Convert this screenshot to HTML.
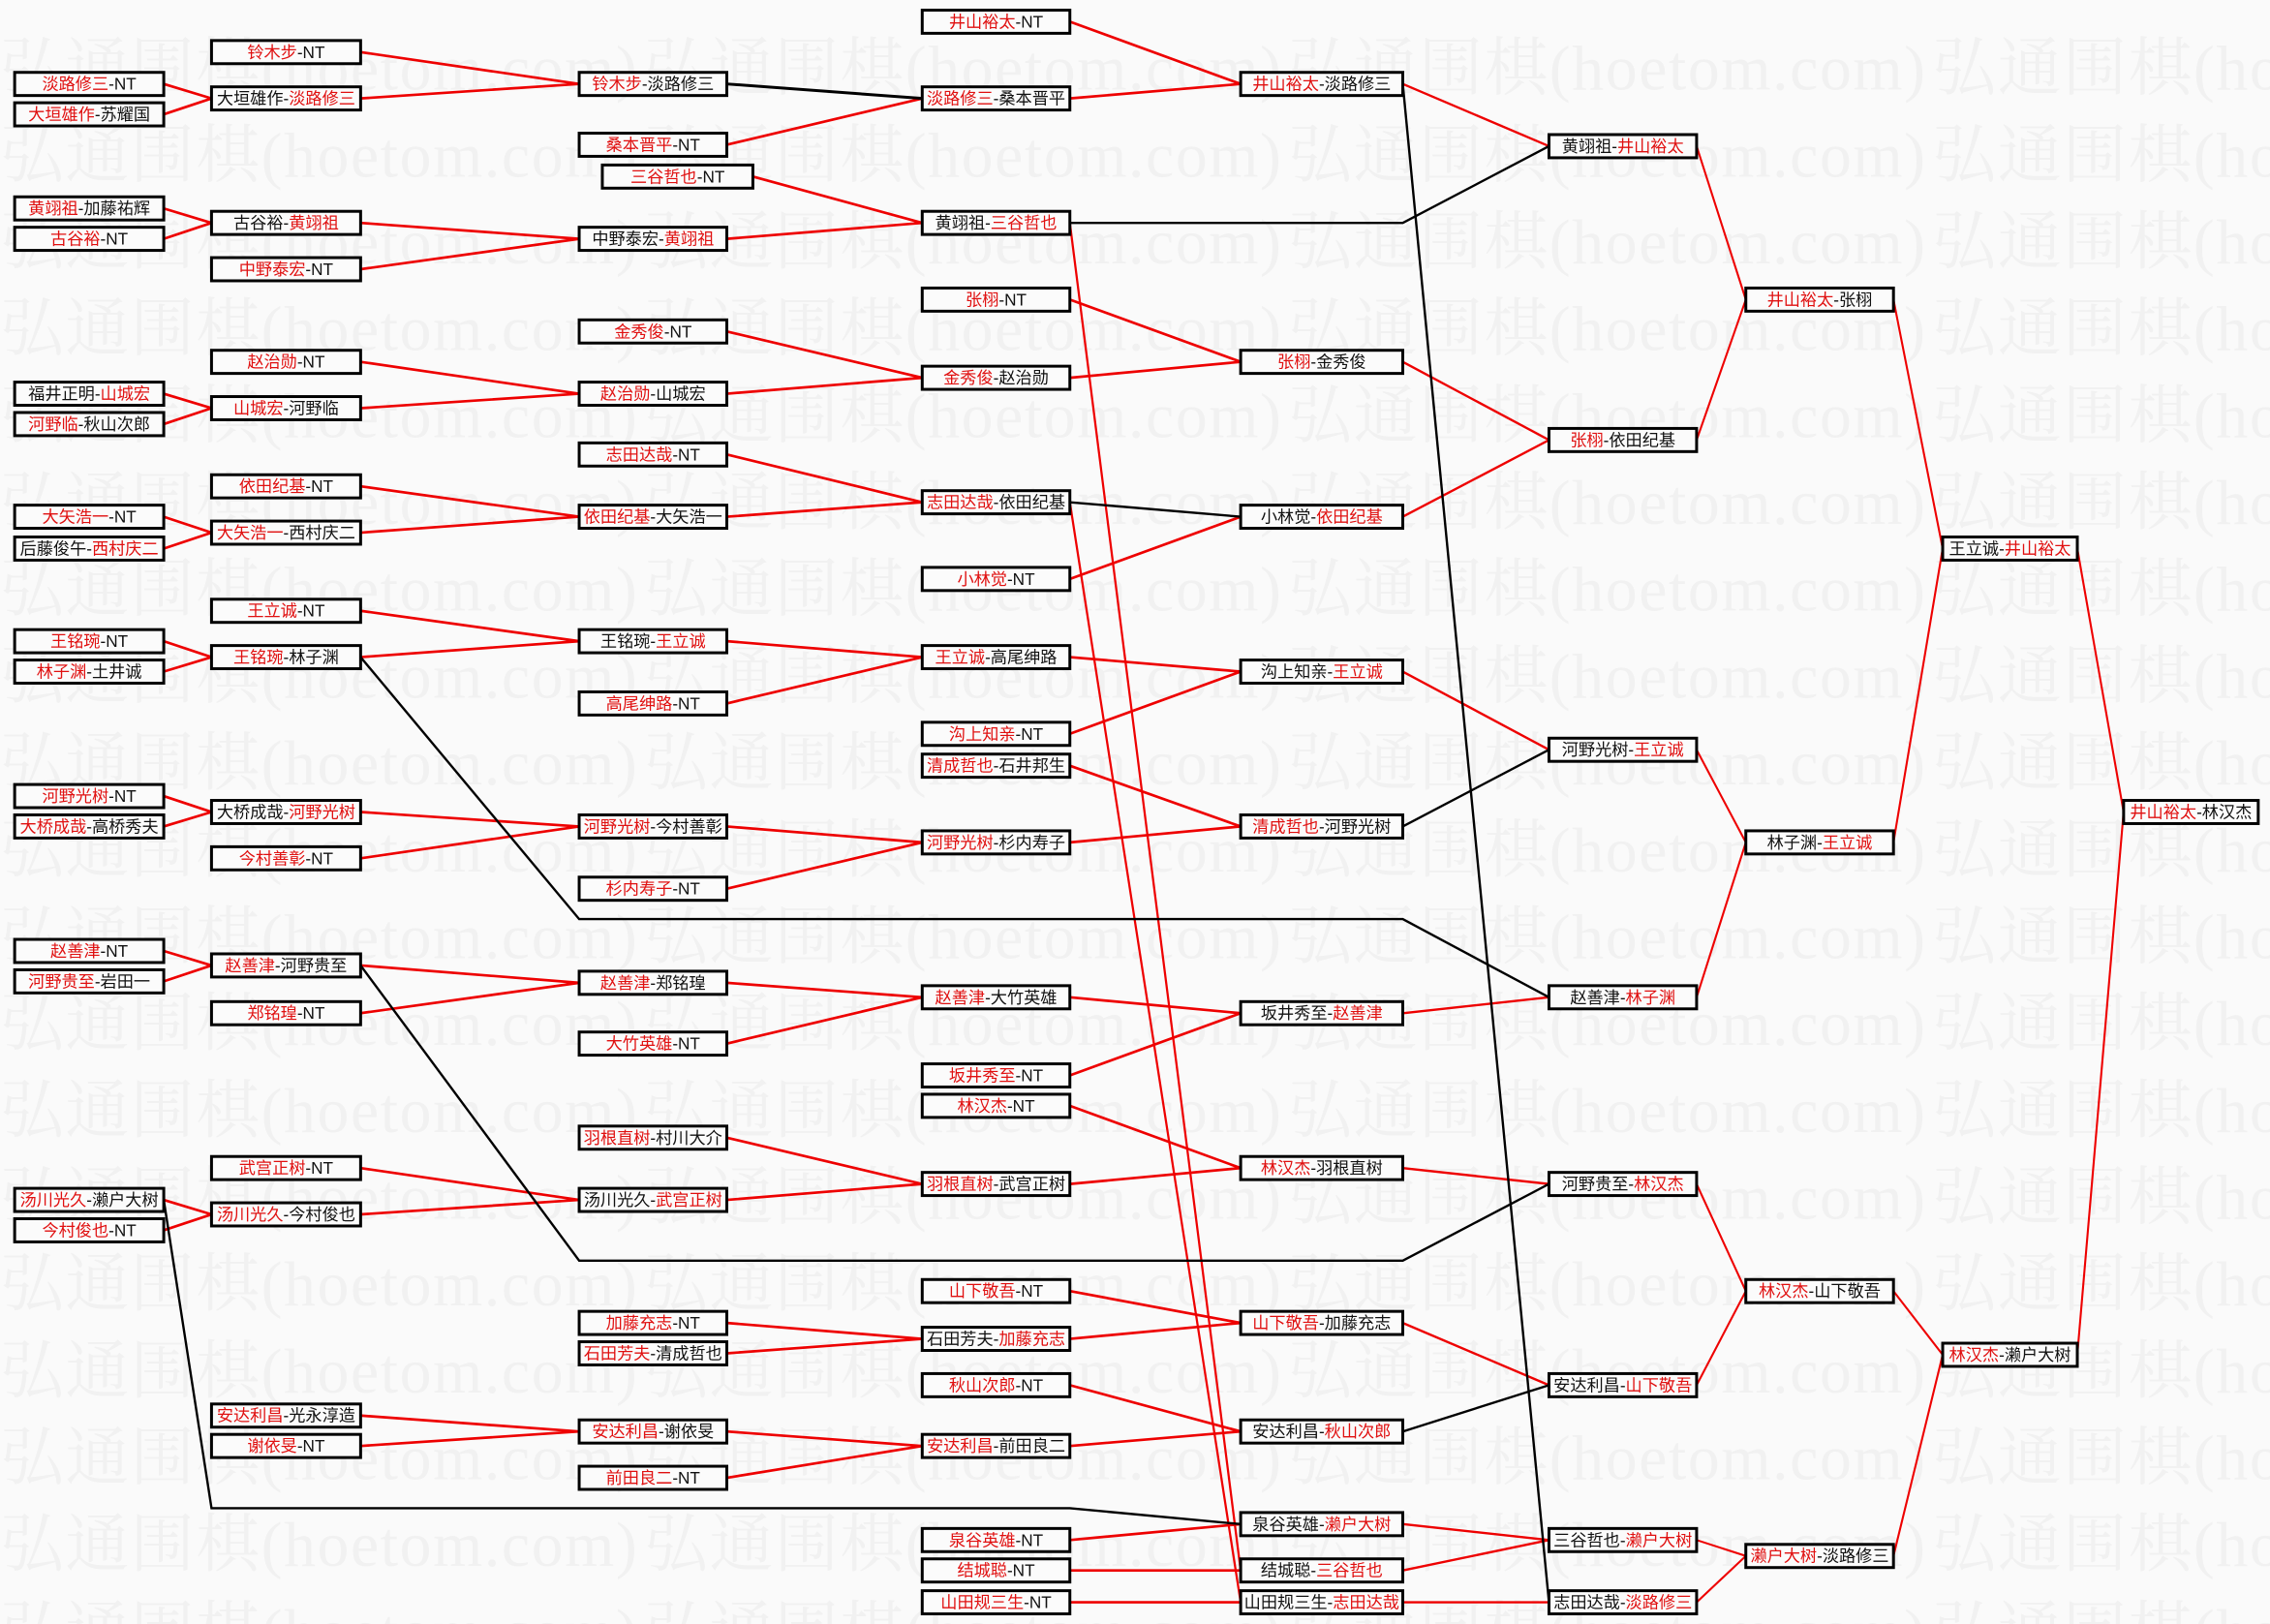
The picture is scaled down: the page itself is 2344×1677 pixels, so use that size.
<!DOCTYPE html>
<html><head><meta charset="utf-8"><style>
html,body{margin:0;padding:0;background:#fafafa;}
svg{display:block;}
.wm{font-family:"Liberation Serif","Noto Serif CJK SC",serif;font-size:44px;fill:#f1f1f1;}
.bx{fill:#fbfbfb;stroke:#000;stroke-width:2;}
.t{font-family:"Liberation Sans","Noto Sans CJK SC",sans-serif;font-size:11.5px;fill:#111;text-anchor:middle;}
.r{fill:#e01010;}
.lr{stroke:#e00;fill:none;stroke-width:1.8;}
.lk{stroke:#000;fill:none;stroke-width:1.6;}
</style></head><body>
<svg width="2344" height="1677" viewBox="0 0 1568 1122" xmlns="http://www.w3.org/2000/svg">
<rect width="1568" height="1122" fill="#fafafa"/>
<g class="wm" id="wm">
<text x="0" y="62" textLength="440">弘通围棋(hoetom.com)</text><text x="445" y="62" textLength="440">弘通围棋(hoetom.com)</text><text x="890" y="62" textLength="440">弘通围棋(hoetom.com)</text><text x="1335" y="62" textLength="440">弘通围棋(hoetom.com)</text>
<text x="0" y="122" textLength="440">弘通围棋(hoetom.com)</text><text x="445" y="122" textLength="440">弘通围棋(hoetom.com)</text><text x="890" y="122" textLength="440">弘通围棋(hoetom.com)</text><text x="1335" y="122" textLength="440">弘通围棋(hoetom.com)</text>
<text x="0" y="182" textLength="440">弘通围棋(hoetom.com)</text><text x="445" y="182" textLength="440">弘通围棋(hoetom.com)</text><text x="890" y="182" textLength="440">弘通围棋(hoetom.com)</text><text x="1335" y="182" textLength="440">弘通围棋(hoetom.com)</text>
<text x="0" y="242" textLength="440">弘通围棋(hoetom.com)</text><text x="445" y="242" textLength="440">弘通围棋(hoetom.com)</text><text x="890" y="242" textLength="440">弘通围棋(hoetom.com)</text><text x="1335" y="242" textLength="440">弘通围棋(hoetom.com)</text>
<text x="0" y="302" textLength="440">弘通围棋(hoetom.com)</text><text x="445" y="302" textLength="440">弘通围棋(hoetom.com)</text><text x="890" y="302" textLength="440">弘通围棋(hoetom.com)</text><text x="1335" y="302" textLength="440">弘通围棋(hoetom.com)</text>
<text x="0" y="362" textLength="440">弘通围棋(hoetom.com)</text><text x="445" y="362" textLength="440">弘通围棋(hoetom.com)</text><text x="890" y="362" textLength="440">弘通围棋(hoetom.com)</text><text x="1335" y="362" textLength="440">弘通围棋(hoetom.com)</text>
<text x="0" y="422" textLength="440">弘通围棋(hoetom.com)</text><text x="445" y="422" textLength="440">弘通围棋(hoetom.com)</text><text x="890" y="422" textLength="440">弘通围棋(hoetom.com)</text><text x="1335" y="422" textLength="440">弘通围棋(hoetom.com)</text>
<text x="0" y="482" textLength="440">弘通围棋(hoetom.com)</text><text x="445" y="482" textLength="440">弘通围棋(hoetom.com)</text><text x="890" y="482" textLength="440">弘通围棋(hoetom.com)</text><text x="1335" y="482" textLength="440">弘通围棋(hoetom.com)</text>
<text x="0" y="542" textLength="440">弘通围棋(hoetom.com)</text><text x="445" y="542" textLength="440">弘通围棋(hoetom.com)</text><text x="890" y="542" textLength="440">弘通围棋(hoetom.com)</text><text x="1335" y="542" textLength="440">弘通围棋(hoetom.com)</text>
<text x="0" y="602" textLength="440">弘通围棋(hoetom.com)</text><text x="445" y="602" textLength="440">弘通围棋(hoetom.com)</text><text x="890" y="602" textLength="440">弘通围棋(hoetom.com)</text><text x="1335" y="602" textLength="440">弘通围棋(hoetom.com)</text>
<text x="0" y="662" textLength="440">弘通围棋(hoetom.com)</text><text x="445" y="662" textLength="440">弘通围棋(hoetom.com)</text><text x="890" y="662" textLength="440">弘通围棋(hoetom.com)</text><text x="1335" y="662" textLength="440">弘通围棋(hoetom.com)</text>
<text x="0" y="722" textLength="440">弘通围棋(hoetom.com)</text><text x="445" y="722" textLength="440">弘通围棋(hoetom.com)</text><text x="890" y="722" textLength="440">弘通围棋(hoetom.com)</text><text x="1335" y="722" textLength="440">弘通围棋(hoetom.com)</text>
<text x="0" y="782" textLength="440">弘通围棋(hoetom.com)</text><text x="445" y="782" textLength="440">弘通围棋(hoetom.com)</text><text x="890" y="782" textLength="440">弘通围棋(hoetom.com)</text><text x="1335" y="782" textLength="440">弘通围棋(hoetom.com)</text>
<text x="0" y="842" textLength="440">弘通围棋(hoetom.com)</text><text x="445" y="842" textLength="440">弘通围棋(hoetom.com)</text><text x="890" y="842" textLength="440">弘通围棋(hoetom.com)</text><text x="1335" y="842" textLength="440">弘通围棋(hoetom.com)</text>
<text x="0" y="902" textLength="440">弘通围棋(hoetom.com)</text><text x="445" y="902" textLength="440">弘通围棋(hoetom.com)</text><text x="890" y="902" textLength="440">弘通围棋(hoetom.com)</text><text x="1335" y="902" textLength="440">弘通围棋(hoetom.com)</text>
<text x="0" y="962" textLength="440">弘通围棋(hoetom.com)</text><text x="445" y="962" textLength="440">弘通围棋(hoetom.com)</text><text x="890" y="962" textLength="440">弘通围棋(hoetom.com)</text><text x="1335" y="962" textLength="440">弘通围棋(hoetom.com)</text>
<text x="0" y="1022" textLength="440">弘通围棋(hoetom.com)</text><text x="445" y="1022" textLength="440">弘通围棋(hoetom.com)</text><text x="890" y="1022" textLength="440">弘通围棋(hoetom.com)</text><text x="1335" y="1022" textLength="440">弘通围棋(hoetom.com)</text>
<text x="0" y="1082" textLength="440">弘通围棋(hoetom.com)</text><text x="445" y="1082" textLength="440">弘通围棋(hoetom.com)</text><text x="890" y="1082" textLength="440">弘通围棋(hoetom.com)</text><text x="1335" y="1082" textLength="440">弘通围棋(hoetom.com)</text>
<text x="0" y="1142" textLength="440">弘通围棋(hoetom.com)</text><text x="445" y="1142" textLength="440">弘通围棋(hoetom.com)</text><text x="890" y="1142" textLength="440">弘通围棋(hoetom.com)</text><text x="1335" y="1142" textLength="440">弘通围棋(hoetom.com)</text>
</g>

<g class="lr">
<path d="M113,58L146,68L113,79 M113,144L146,154L113,165 M113,272L146,282L113,293 M113,357L146,368L113,379 M113,443L146,454L113,464 M113,550L146,561L113,571 M113,657L146,667L113,678 M113,829L146,839L113,850"/>
<path d="M249,36L400,58L249,68 M249,154L400,165L249,186 M249,250L400,272L249,282 M249,336L400,357L249,368 M249,422L400,443L249,454 M249,561L400,571L249,593 M249,667L400,679L249,700 M249,807L400,829L249,839 M249,978L400,989L249,999"/>
<path d="M502,100L637,68 M520,122L637,154L502,165 M502,229L637,261L502,272 M502,314L637,347L502,357 M502,443L637,454L502,486 M502,571L637,582L502,614 M502,679L637,689L502,721 M502,786L637,818L502,829 M502,914L637,925L502,935 M502,989L637,999L502,1021"/>
<path d="M739,15L857,58L739,68 M739,207L857,250L739,261 M739,400L857,357 M739,454L857,464L739,507 M739,529L857,571L739,582 M739,689L857,700L739,743 M739,764L857,807L739,818 M739,892L857,914L739,925 M739,957L857,989L739,999 M739,1064L857,1053 M739,1085L857,1085 M739,1107L857,1107"/>
<path d="M739,154L857,1085 M739,347L857,1107" style="stroke-width:1.5"/>
<path d="M969,58L1070,101 M969,250L1070,304L969,357 M969,464L1070,518 M969,700L1070,689 M969,807L1070,818 M969,914L1070,957 M969,1053L1070,1064L969,1085 M969,1107L1070,1107" style="stroke-width:1.6"/>
<path d="M1172,101L1206,207L1172,304 M1172,518L1206,582L1172,689 M1172,818L1206,892L1172,957 M1172,1064L1206,1075L1172,1107 M1308,207L1342,379L1308,582 M1308,892L1342,936L1308,1075 M1435,379L1467,561L1435,936" style="stroke-width:1.4"/>
</g>
<g class="lk">
<path d="M113,829L146,1042L739,1042L857,1053"/>
<path d="M249,454L400,635L969,635L1070,689"/>
<path d="M249,667L400,871L969,871L1070,818"/>
<path d="M502,58L637,68" style="stroke-width:2"/>
<path d="M739,347L857,357"/>
<path d="M739,154L969,154L1070,101"/>
<path d="M969,571L1070,518 M969,989L1070,957"/>
<path d="M969,58L1070,1107"/>
</g>

<g>
<rect class="bx" x="10" y="50" width="103" height="16"/><text class="t" x="61.5" y="62"><tspan class="r">淡路修三</tspan>-NT</text>
<rect class="bx" x="10" y="71" width="103" height="16"/><text class="t" x="61.5" y="83"><tspan class="r">大垣雄作</tspan>-苏耀国</text>
<rect class="bx" x="10" y="136" width="103" height="16"/><text class="t" x="61.5" y="148"><tspan class="r">黄翊祖</tspan>-加藤祐辉</text>
<rect class="bx" x="10" y="157" width="103" height="16"/><text class="t" x="61.5" y="169"><tspan class="r">古谷裕</tspan>-NT</text>
<rect class="bx" x="10" y="264" width="103" height="16"/><text class="t" x="61.5" y="276">福井正明-<tspan class="r">山城宏</tspan></text>
<rect class="bx" x="10" y="285" width="103" height="16"/><text class="t" x="61.5" y="297"><tspan class="r">河野临</tspan>-秋山次郎</text>
<rect class="bx" x="10" y="349" width="103" height="16"/><text class="t" x="61.5" y="361"><tspan class="r">大矢浩一</tspan>-NT</text>
<rect class="bx" x="10" y="371" width="103" height="16"/><text class="t" x="61.5" y="383">后藤俊午-<tspan class="r">西村庆二</tspan></text>
<rect class="bx" x="10" y="435" width="103" height="16"/><text class="t" x="61.5" y="447"><tspan class="r">王铭琬</tspan>-NT</text>
<rect class="bx" x="10" y="456" width="103" height="16"/><text class="t" x="61.5" y="468"><tspan class="r">林子渊</tspan>-土井诚</text>
<rect class="bx" x="10" y="542" width="103" height="16"/><text class="t" x="61.5" y="554"><tspan class="r">河野光树</tspan>-NT</text>
<rect class="bx" x="10" y="563" width="103" height="16"/><text class="t" x="61.5" y="575"><tspan class="r">大桥成哉</tspan>-高桥秀夫</text>
<rect class="bx" x="10" y="649" width="103" height="16"/><text class="t" x="61.5" y="661"><tspan class="r">赵善津</tspan>-NT</text>
<rect class="bx" x="10" y="670" width="103" height="16"/><text class="t" x="61.5" y="682"><tspan class="r">河野贵至</tspan>-岩田一</text>
<rect class="bx" x="10" y="821" width="103" height="16"/><text class="t" x="61.5" y="833"><tspan class="r">汤川光久</tspan>-濑户大树</text>
<rect class="bx" x="10" y="842" width="103" height="16"/><text class="t" x="61.5" y="854"><tspan class="r">今村俊也</tspan>-NT</text>
</g>
<g>
<rect class="bx" x="146" y="28" width="103" height="16"/><text class="t" x="197.5" y="40"><tspan class="r">铃木步</tspan>-NT</text>
<rect class="bx" x="146" y="60" width="103" height="16"/><text class="t" x="197.5" y="72">大垣雄作-<tspan class="r">淡路修三</tspan></text>
<rect class="bx" x="146" y="146" width="103" height="16"/><text class="t" x="197.5" y="158">古谷裕-<tspan class="r">黄翊祖</tspan></text>
<rect class="bx" x="146" y="178" width="103" height="16"/><text class="t" x="197.5" y="190"><tspan class="r">中野泰宏</tspan>-NT</text>
<rect class="bx" x="146" y="242" width="103" height="16"/><text class="t" x="197.5" y="254"><tspan class="r">赵治勋</tspan>-NT</text>
<rect class="bx" x="146" y="274" width="103" height="16"/><text class="t" x="197.5" y="286"><tspan class="r">山城宏</tspan>-河野临</text>
<rect class="bx" x="146" y="328" width="103" height="16"/><text class="t" x="197.5" y="340"><tspan class="r">依田纪基</tspan>-NT</text>
<rect class="bx" x="146" y="360" width="103" height="16"/><text class="t" x="197.5" y="372"><tspan class="r">大矢浩一</tspan>-西村庆二</text>
<rect class="bx" x="146" y="414" width="103" height="16"/><text class="t" x="197.5" y="426"><tspan class="r">王立诚</tspan>-NT</text>
<rect class="bx" x="146" y="446" width="103" height="16"/><text class="t" x="197.5" y="458"><tspan class="r">王铭琬</tspan>-林子渊</text>
<rect class="bx" x="146" y="553" width="103" height="16"/><text class="t" x="197.5" y="565">大桥成哉-<tspan class="r">河野光树</tspan></text>
<rect class="bx" x="146" y="585" width="103" height="16"/><text class="t" x="197.5" y="597"><tspan class="r">今村善彰</tspan>-NT</text>
<rect class="bx" x="146" y="659" width="103" height="16"/><text class="t" x="197.5" y="671"><tspan class="r">赵善津</tspan>-河野贵至</text>
<rect class="bx" x="146" y="692" width="103" height="16"/><text class="t" x="197.5" y="704"><tspan class="r">郑铭瑝</tspan>-NT</text>
<rect class="bx" x="146" y="799" width="103" height="16"/><text class="t" x="197.5" y="811"><tspan class="r">武宫正树</tspan>-NT</text>
<rect class="bx" x="146" y="831" width="103" height="16"/><text class="t" x="197.5" y="843"><tspan class="r">汤川光久</tspan>-今村俊也</text>
<rect class="bx" x="146" y="970" width="103" height="16"/><text class="t" x="197.5" y="982"><tspan class="r">安达利昌</tspan>-光永淳造</text>
<rect class="bx" x="146" y="991" width="103" height="16"/><text class="t" x="197.5" y="1003"><tspan class="r">谢依旻</tspan>-NT</text>
</g>
<g>
<rect class="bx" x="400" y="50" width="102" height="16"/><text class="t" x="451" y="62"><tspan class="r">铃木步</tspan>-淡路修三</text>
<rect class="bx" x="400" y="92" width="102" height="16"/><text class="t" x="451" y="104"><tspan class="r">桑本晋平</tspan>-NT</text>
<rect class="bx" x="416" y="114" width="104" height="16"/><text class="t" x="468" y="126"><tspan class="r">三谷哲也</tspan>-NT</text>
<rect class="bx" x="400" y="157" width="102" height="16"/><text class="t" x="451" y="169">中野泰宏-<tspan class="r">黄翊祖</tspan></text>
<rect class="bx" x="400" y="221" width="102" height="16"/><text class="t" x="451" y="233"><tspan class="r">金秀俊</tspan>-NT</text>
<rect class="bx" x="400" y="264" width="102" height="16"/><text class="t" x="451" y="276"><tspan class="r">赵治勋</tspan>-山城宏</text>
<rect class="bx" x="400" y="306" width="102" height="16"/><text class="t" x="451" y="318"><tspan class="r">志田达哉</tspan>-NT</text>
<rect class="bx" x="400" y="349" width="102" height="16"/><text class="t" x="451" y="361"><tspan class="r">依田纪基</tspan>-大矢浩一</text>
<rect class="bx" x="400" y="435" width="102" height="16"/><text class="t" x="451" y="447">王铭琬-<tspan class="r">王立诚</tspan></text>
<rect class="bx" x="400" y="478" width="102" height="16"/><text class="t" x="451" y="490"><tspan class="r">高尾绅路</tspan>-NT</text>
<rect class="bx" x="400" y="563" width="102" height="16"/><text class="t" x="451" y="575"><tspan class="r">河野光树</tspan>-今村善彰</text>
<rect class="bx" x="400" y="606" width="102" height="16"/><text class="t" x="451" y="618"><tspan class="r">杉内寿子</tspan>-NT</text>
<rect class="bx" x="400" y="671" width="102" height="16"/><text class="t" x="451" y="683"><tspan class="r">赵善津</tspan>-郑铭瑝</text>
<rect class="bx" x="400" y="713" width="102" height="16"/><text class="t" x="451" y="725"><tspan class="r">大竹英雄</tspan>-NT</text>
<rect class="bx" x="400" y="778" width="102" height="16"/><text class="t" x="451" y="790"><tspan class="r">羽根直树</tspan>-村川大介</text>
<rect class="bx" x="400" y="821" width="102" height="16"/><text class="t" x="451" y="833">汤川光久-<tspan class="r">武宫正树</tspan></text>
<rect class="bx" x="400" y="906" width="102" height="16"/><text class="t" x="451" y="918"><tspan class="r">加藤充志</tspan>-NT</text>
<rect class="bx" x="400" y="927" width="102" height="16"/><text class="t" x="451" y="939"><tspan class="r">石田芳夫</tspan>-清成哲也</text>
<rect class="bx" x="400" y="981" width="102" height="16"/><text class="t" x="451" y="993"><tspan class="r">安达利昌</tspan>-谢依旻</text>
<rect class="bx" x="400" y="1013" width="102" height="16"/><text class="t" x="451" y="1025"><tspan class="r">前田良二</tspan>-NT</text>
</g>
<g>
<rect class="bx" x="637" y="7" width="102" height="16"/><text class="t" x="688" y="19"><tspan class="r">井山裕太</tspan>-NT</text>
<rect class="bx" x="637" y="60" width="102" height="16"/><text class="t" x="688" y="72"><tspan class="r">淡路修三</tspan>-桑本晋平</text>
<rect class="bx" x="637" y="146" width="102" height="16"/><text class="t" x="688" y="158">黄翊祖-<tspan class="r">三谷哲也</tspan></text>
<rect class="bx" x="637" y="199" width="102" height="16"/><text class="t" x="688" y="211"><tspan class="r">张栩</tspan>-NT</text>
<rect class="bx" x="637" y="253" width="102" height="16"/><text class="t" x="688" y="265"><tspan class="r">金秀俊</tspan>-赵治勋</text>
<rect class="bx" x="637" y="339" width="102" height="16"/><text class="t" x="688" y="351"><tspan class="r">志田达哉</tspan>-依田纪基</text>
<rect class="bx" x="637" y="392" width="102" height="16"/><text class="t" x="688" y="404"><tspan class="r">小林觉</tspan>-NT</text>
<rect class="bx" x="637" y="446" width="102" height="16"/><text class="t" x="688" y="458"><tspan class="r">王立诚</tspan>-高尾绅路</text>
<rect class="bx" x="637" y="499" width="102" height="16"/><text class="t" x="688" y="511"><tspan class="r">沟上知亲</tspan>-NT</text>
<rect class="bx" x="637" y="521" width="102" height="16"/><text class="t" x="688" y="533"><tspan class="r">清成哲也</tspan>-石井邦生</text>
<rect class="bx" x="637" y="574" width="102" height="16"/><text class="t" x="688" y="586"><tspan class="r">河野光树</tspan>-杉内寿子</text>
<rect class="bx" x="637" y="681" width="102" height="16"/><text class="t" x="688" y="693"><tspan class="r">赵善津</tspan>-大竹英雄</text>
<rect class="bx" x="637" y="735" width="102" height="16"/><text class="t" x="688" y="747"><tspan class="r">坂井秀至</tspan>-NT</text>
<rect class="bx" x="637" y="756" width="102" height="16"/><text class="t" x="688" y="768"><tspan class="r">林汉杰</tspan>-NT</text>
<rect class="bx" x="637" y="810" width="102" height="16"/><text class="t" x="688" y="822"><tspan class="r">羽根直树</tspan>-武宫正树</text>
<rect class="bx" x="637" y="884" width="102" height="16"/><text class="t" x="688" y="896"><tspan class="r">山下敬吾</tspan>-NT</text>
<rect class="bx" x="637" y="917" width="102" height="16"/><text class="t" x="688" y="929">石田芳夫-<tspan class="r">加藤充志</tspan></text>
<rect class="bx" x="637" y="949" width="102" height="16"/><text class="t" x="688" y="961"><tspan class="r">秋山次郎</tspan>-NT</text>
<rect class="bx" x="637" y="991" width="102" height="16"/><text class="t" x="688" y="1003"><tspan class="r">安达利昌</tspan>-前田良二</text>
<rect class="bx" x="637" y="1056" width="102" height="16"/><text class="t" x="688" y="1068"><tspan class="r">泉谷英雄</tspan>-NT</text>
<rect class="bx" x="637" y="1077" width="102" height="16"/><text class="t" x="688" y="1089"><tspan class="r">结城聪</tspan>-NT</text>
<rect class="bx" x="637" y="1099" width="102" height="16"/><text class="t" x="688" y="1111"><tspan class="r">山田规三生</tspan>-NT</text>
</g>
<g>
<rect class="bx" x="857" y="50" width="112" height="16"/><text class="t" x="913" y="62"><tspan class="r">井山裕太</tspan>-淡路修三</text>
<rect class="bx" x="857" y="242" width="112" height="16"/><text class="t" x="913" y="254"><tspan class="r">张栩</tspan>-金秀俊</text>
<rect class="bx" x="857" y="349" width="112" height="16"/><text class="t" x="913" y="361">小林觉-<tspan class="r">依田纪基</tspan></text>
<rect class="bx" x="857" y="456" width="112" height="16"/><text class="t" x="913" y="468">沟上知亲-<tspan class="r">王立诚</tspan></text>
<rect class="bx" x="857" y="563" width="112" height="16"/><text class="t" x="913" y="575"><tspan class="r">清成哲也</tspan>-河野光树</text>
<rect class="bx" x="857" y="692" width="112" height="16"/><text class="t" x="913" y="704">坂井秀至-<tspan class="r">赵善津</tspan></text>
<rect class="bx" x="857" y="799" width="112" height="16"/><text class="t" x="913" y="811"><tspan class="r">林汉杰</tspan>-羽根直树</text>
<rect class="bx" x="857" y="906" width="112" height="16"/><text class="t" x="913" y="918"><tspan class="r">山下敬吾</tspan>-加藤充志</text>
<rect class="bx" x="857" y="981" width="112" height="16"/><text class="t" x="913" y="993">安达利昌-<tspan class="r">秋山次郎</tspan></text>
<rect class="bx" x="857" y="1045" width="112" height="16"/><text class="t" x="913" y="1057">泉谷英雄-<tspan class="r">濑户大树</tspan></text>
<rect class="bx" x="857" y="1077" width="112" height="16"/><text class="t" x="913" y="1089">结城聪-<tspan class="r">三谷哲也</tspan></text>
<rect class="bx" x="857" y="1099" width="112" height="16"/><text class="t" x="913" y="1111">山田规三生-<tspan class="r">志田达哉</tspan></text>
</g>
<g>
<rect class="bx" x="1070" y="93" width="102" height="16"/><text class="t" x="1121" y="105">黄翊祖-<tspan class="r">井山裕太</tspan></text>
<rect class="bx" x="1070" y="296" width="102" height="16"/><text class="t" x="1121" y="308"><tspan class="r">张栩</tspan>-依田纪基</text>
<rect class="bx" x="1070" y="510" width="102" height="16"/><text class="t" x="1121" y="522">河野光树-<tspan class="r">王立诚</tspan></text>
<rect class="bx" x="1070" y="681" width="102" height="16"/><text class="t" x="1121" y="693">赵善津-<tspan class="r">林子渊</tspan></text>
<rect class="bx" x="1070" y="810" width="102" height="16"/><text class="t" x="1121" y="822">河野贵至-<tspan class="r">林汉杰</tspan></text>
<rect class="bx" x="1070" y="949" width="102" height="16"/><text class="t" x="1121" y="961">安达利昌-<tspan class="r">山下敬吾</tspan></text>
<rect class="bx" x="1070" y="1056" width="102" height="16"/><text class="t" x="1121" y="1068">三谷哲也-<tspan class="r">濑户大树</tspan></text>
<rect class="bx" x="1070" y="1099" width="102" height="16"/><text class="t" x="1121" y="1111">志田达哉-<tspan class="r">淡路修三</tspan></text>
</g>
<g>
<rect class="bx" x="1206" y="199" width="102" height="16"/><text class="t" x="1257" y="211"><tspan class="r">井山裕太</tspan>-张栩</text>
<rect class="bx" x="1206" y="574" width="102" height="16"/><text class="t" x="1257" y="586">林子渊-<tspan class="r">王立诚</tspan></text>
<rect class="bx" x="1206" y="884" width="102" height="16"/><text class="t" x="1257" y="896"><tspan class="r">林汉杰</tspan>-山下敬吾</text>
<rect class="bx" x="1206" y="1067" width="102" height="16"/><text class="t" x="1257" y="1079"><tspan class="r">濑户大树</tspan>-淡路修三</text>
</g>
<g>
<rect class="bx" x="1342" y="371" width="93" height="16"/><text class="t" x="1388.5" y="383">王立诚-<tspan class="r">井山裕太</tspan></text>
<rect class="bx" x="1342" y="928" width="93" height="16"/><text class="t" x="1388.5" y="940"><tspan class="r">林汉杰</tspan>-濑户大树</text>
<rect class="bx" x="1467" y="553" width="93" height="16"/><text class="t" x="1513.5" y="565"><tspan class="r">井山裕太</tspan>-林汉杰</text>
</g>
</svg>
</body></html>
